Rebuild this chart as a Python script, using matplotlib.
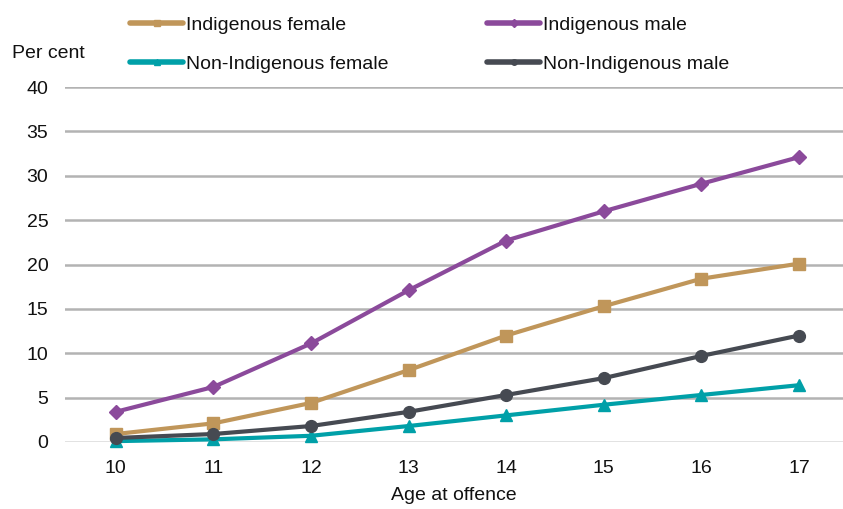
import matplotlib
matplotlib.use("Agg")
import matplotlib.pyplot as plt
from matplotlib.lines import Line2D

plt.rcParams['font.family'] = ['Liberation Sans', 'DejaVu Sans']

ages = [10, 11, 12, 13, 14, 15, 16, 17]
indigenous_female = [0.9, 2.1, 4.4, 8.1, 12.0, 15.3, 18.4, 20.1]
indigenous_male = [3.4, 6.2, 11.1, 17.1, 22.7, 26.0, 29.1, 32.1]
non_indigenous_female = [0.1, 0.3, 0.7, 1.8, 3.0, 4.2, 5.3, 6.4]
non_indigenous_male = [0.45, 0.9, 1.8, 3.4, 5.3, 7.2, 9.7, 12.0]
yticks = [0, 5, 10, 15, 20, 25, 30, 35, 40]

W, H = 843, 509
FS = 14
fig = plt.figure(figsize=(W/100, H/100), dpi=100)
ax = fig.add_axes([65/W, 1-442/H, (843-65)/W, (442-87)/H])

series = [
    ("Indigenous female", indigenous_female, "#C0965A", "s", 8, (130, 25)),
    ("Indigenous male", indigenous_male, "#8B4A9B", "D", 7.5, (487, 25)),
    ("Non-Indigenous female", non_indigenous_female, "#00A0A8", "^", 8.5, (130, 64)),
    ("Non-Indigenous male", non_indigenous_male, "#464A52", "o", 8.5, (487, 64)),
]
for name, vals, col, mk, ms, (lx, ly) in series:
    ax.plot(ages, vals, color=col, lw=3.0, marker=mk, ms=ms, label=name,
            clip_on=False, zorder=3)
    h = Line2D([], [], color=col, lw=4, marker=mk, ms=4, solid_capstyle='round')
    leg = fig.legend(handles=[h], labels=[name], loc='center left',
                     bbox_to_anchor=(lx/W, 1-ly/H), frameon=False, fontsize=FS,
                     handlelength=2.75, handletextpad=0.12, borderpad=0,
                     borderaxespad=0)
    for t in leg.get_texts():
        t.set_color('#111111')

ax.set_xlim(9.48, 17.45)
ax.set_ylim(0, 40)
ax.set_yticks(yticks)
ax.set_xticks(ages)
ax.grid(axis='y', color='#B3B3B3', lw=1.8)
ax.set_axisbelow(True)
gl = ax.get_ygridlines()
gl[0].set_color('#D9D9D9')
for s in ax.spines.values():
    s.set_visible(False)
ax.tick_params(length=0, labelsize=FS, colors='#111111')
ax.tick_params(axis='y', pad=12)
ax.tick_params(axis='x', pad=13)
ax.set_xlabel("Age at offence", fontsize=FS, labelpad=7, color='#111111')

fig.text(12/W, 1-53/H, "Per cent", fontsize=FS, va='center', ha='left', color='#111111')

fig.savefig("out.png", dpi=100)
